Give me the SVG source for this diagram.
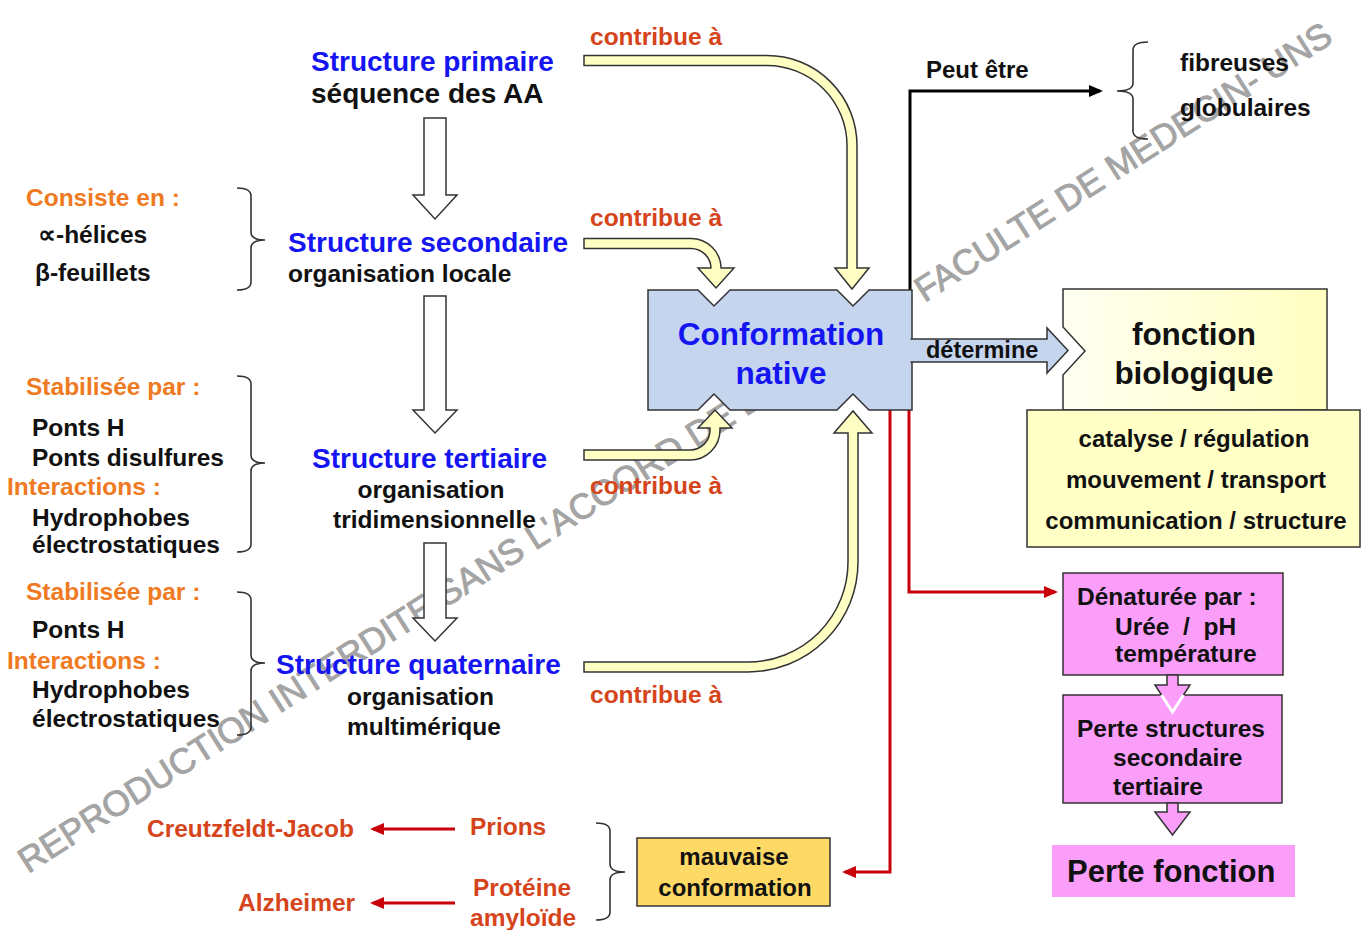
<svg xmlns="http://www.w3.org/2000/svg" width="1370" height="930" viewBox="0 0 1370 930">
<defs>
<style>
text{font-family:"Liberation Sans",Arial,sans-serif;font-weight:bold;}
.blue{fill:#1515F2;font-size:28px}
.blk{fill:#111;font-size:24.5px}
.big{fill:#111;font-size:28px}
.org{fill:#EF7A22;font-size:24.5px}
.red{fill:#D5441B;font-size:24.5px}
.ya{fill:#FFFFC4;stroke:#333;stroke-width:1.5}
.wa{fill:#fff;stroke:#333;stroke-width:1.5}
.pa{fill:#FA9EFA;stroke:#333;stroke-width:1.5}
.brace{fill:none;stroke:#333;stroke-width:1.6}
.box{stroke:#333;stroke-width:1.5}
.rl{fill:none;stroke:#C8000A;stroke-width:3}
.wm{font-family:"Liberation Sans",Arial,sans-serif;font-weight:normal;font-size:35.5px;fill:#A4A4A4;stroke:#A4A4A4;stroke-width:0.9}
</style>
<marker id="mr" markerUnits="userSpaceOnUse" markerWidth="14" markerHeight="12" refX="11" refY="6" orient="auto">
<path d="M0,0 L14,6 L0,12 z" fill="#C8000A"/>
</marker>
<marker id="mb" markerUnits="userSpaceOnUse" markerWidth="14" markerHeight="12" refX="11" refY="6" orient="auto">
<path d="M0,0 L14,6 L0,12 z" fill="#000"/>
</marker>
<linearGradient id="gf" x1="0" y1="0" x2="1" y2="0">
<stop offset="0" stop-color="#FFFFF2"/>
<stop offset="1" stop-color="#FFFFC0"/>
</linearGradient>
</defs>
<rect width="1370" height="930" fill="#fff"/>

<text class="wm" transform="translate(28,874) rotate(-32.5)">REPRODUCTION INTERDITE SANS L'ACCORD DE L'AUTEUR – FACULTE DE MEDECIN- UNS</text>

<g id="connectors">
<path class="wa" d="M424,118 H446 V195 H457 L435,219 L413,195 H424 Z"/>
<path class="wa" d="M424,296 H446 V410 H457 L435,433 L413,410 H424 Z"/>
<path class="wa" d="M424,543 H446 V618 H457 L435,641 L413,618 H424 Z"/>
<path class="ya" d="M584,55.5 H767 A90 90 0 0 1 857,145.5 V268 H869 L852,289 L835,268 H847 V145.5 A80 80 0 0 0 767,65.5 H584 Z"/>
<path class="ya" d="M584,238.5 H691 A30 30 0 0 1 721,268.5 V268 H734 L716,288 L698,268 H711 V268.5 A20 20 0 0 0 691,248.5 H584 Z"/>
<path class="ya" d="M584,460 H690 A30 30 0 0 0 720,430 V428 H732 L715,410 L698,428 H710 V430 A20 20 0 0 1 690,450 H584 Z"/>
<path class="ya" d="M584,672 H748 A110 110 0 0 0 858,562 V433 H872 L853,411 L834,433 H848 V562 A100 100 0 0 1 748,662 H584 Z"/>
<path d="M910,290 V91 H1100" fill="none" stroke="#000" stroke-width="3" marker-end="url(#mb)"/>
<path class="rl" d="M909,410 V592 H1055" marker-end="url(#mr)"/>
<path class="rl" d="M890,410 V872 H845" marker-end="url(#mr)"/>
<path class="rl" d="M455,829 H373" marker-end="url(#mr)"/>
<path class="rl" d="M455,903 H373" marker-end="url(#mr)"/>
</g>

<g id="primaire">
<text class="blue" x="311" y="71">Structure primaire</text>
<text class="big" x="311" y="103">séquence des AA</text>
</g>
<g id="secondaire">
<text class="blue" x="288" y="252">Structure secondaire</text>
<text class="blk" x="288" y="282">organisation locale</text>
</g>
<g id="tertiaire">
<text class="blue" x="312" y="468">Structure tertiaire</text>
<text class="blk" x="431" y="498" text-anchor="middle">organisation</text>
<text class="blk" x="333" y="528">tridimensionnelle</text>
</g>
<g id="quaternaire">
<text class="blue" x="276" y="674">Structure quaternaire</text>
<text class="blk" x="347" y="705">organisation</text>
<text class="blk" x="347" y="735">multimérique</text>
</g>

<g id="consiste">
<text class="org" x="26" y="206">Consiste en :</text>
<text class="blk" x="38" y="243">∝-hélices</text>
<text class="blk" x="35" y="281">β-feuillets</text>
<path class="brace" d="M237,188 Q251,188 251,196 V232 Q251,240 265,240 Q251,240 251,248 V282 Q251,290 237,290"/>
</g>
<g id="stab-tertiaire">
<text class="org" x="26" y="395">Stabilisée par :</text>
<text class="blk" x="32" y="436">Ponts H</text>
<text class="blk" x="32" y="466">Ponts disulfures</text>
<text class="org" x="7" y="495">Interactions :</text>
<text class="blk" x="32" y="526">Hydrophobes</text>
<text class="blk" x="32" y="553">électrostatiques</text>
<path class="brace" d="M237,376 Q251,376 251,384 V455 Q251,463 265,463 Q251,463 251,471 V544 Q251,552 237,552"/>
</g>
<g id="stab-quaternaire">
<text class="org" x="26" y="600">Stabilisée par :</text>
<text class="blk" x="32" y="638">Ponts H</text>
<text class="org" x="7" y="669">Interactions :</text>
<text class="blk" x="32" y="698">Hydrophobes</text>
<text class="blk" x="32" y="727">électrostatiques</text>
<path class="brace" d="M237,592 Q251,592 251,600 V655 Q251,663 265,663 Q251,663 251,671 V727 Q251,735 237,735"/>
</g>

<g id="contribue-labels">
<text class="red" x="590" y="45">contribue à</text>
<text class="red" x="590" y="226">contribue à</text>
<text class="red" x="590" y="494">contribue à</text>
<text class="red" x="590" y="703">contribue à</text>
</g>

<g id="conformation">
<path class="box" fill="#C6D5EE" d="M648,290 H698 L714,306 L730,290 H837 L853,306 L869,290 H912 V410 H869 L853,394 L837,410 H730 L714,394 L698,410 H648 Z"/>
<text x="781" y="345" text-anchor="middle" style="fill:#1515F2;font-size:31.5px">Conformation</text>
<text x="781" y="384" text-anchor="middle" style="fill:#1515F2;font-size:31.5px">native</text>
</g>

<g id="determine">
<path fill="#C6D5EE" stroke="#333" stroke-width="1.5" d="M910.5,339 H1047 V328 L1068,350.5 L1047,373 V362 H910.5"/>
<text class="blk" x="926" y="358" style="font-size:23.5px">détermine</text>
</g>

<g id="peut-etre">
<text class="blk" x="926" y="78" style="font-size:24px">Peut être</text>
<path class="brace" d="M1148,42 Q1133,42 1133,50 V83 Q1133,91 1117,91 Q1133,91 1133,99 V131 Q1133,139 1148,139"/>
<text class="blk" x="1180" y="71">fibreuses</text>
<text class="blk" x="1180" y="116">globulaires</text>
</g>

<g id="fonction">
<path class="box" fill="url(#gf)" d="M1063,289 H1327 V410 H1063 V375 L1085,351 L1063,327 Z"/>
<text x="1194" y="345" text-anchor="middle" style="fill:#111;font-size:31.5px">fonction</text>
<text x="1194" y="384" text-anchor="middle" style="fill:#111;font-size:31.5px">biologique</text>
</g>

<g id="roles">
<rect class="box" x="1027" y="410" width="333" height="137" fill="#FFFFC6"/>
<text class="blk" x="1194" y="447" text-anchor="middle" style="font-size:24px">catalyse / régulation</text>
<text class="blk" x="1196" y="488" text-anchor="middle" style="font-size:24px">mouvement / transport</text>
<text class="blk" x="1196" y="529" text-anchor="middle" style="font-size:24px">communication / structure</text>
</g>

<g id="denaturee">
<rect class="box" x="1063" y="573" width="220" height="102" fill="#FA9EFA"/>
<text class="blk" x="1077" y="605">Dénaturée par :</text>
<text class="blk" x="1115" y="635" xml:space="preserve">Urée  /  pH</text>
<text class="blk" x="1115" y="662">température</text>
</g>

<g id="perte-structures">
<rect class="box" x="1063" y="695" width="219" height="108" fill="#FA9EFA"/>
<text class="blk" x="1077" y="737">Perte structures</text>
<text class="blk" x="1113" y="766">secondaire</text>
<text class="blk" x="1113" y="795">tertiaire</text>
</g>

<g id="pink-arrows">
<path class="pa" d="M1167,675 H1178 V685 H1190 L1172.5,712 L1155,685 H1167 Z"/>
<polyline points="1161.5,695 1172.5,712 1183.5,695" fill="none" stroke="#fff" stroke-width="3"/>
<path class="pa" d="M1167,803 H1178 V812 H1190 L1172.5,835 L1155,812 H1167 Z"/>
</g>

<g id="perte-fonction">
<rect x="1052" y="845" width="243" height="52" fill="#FA9EFA"/>
<text x="1067" y="882" style="fill:#111;font-size:31px">Perte fonction</text>
</g>

<g id="maladies">
<text class="red" x="147" y="837">Creutzfeldt-Jacob</text>
<text class="red" x="470" y="835">Prions</text>
<text class="red" x="238" y="911">Alzheimer</text>
<text class="red" x="473" y="896">Protéine</text>
<text class="red" x="470" y="926">amyloïde</text>
<path class="brace" d="M596,823 Q610,823 610,831 V864 Q610,872 625,872 Q610,872 610,880 V912 Q610,920 596,920"/>
</g>

<g id="mauvaise">
<rect class="box" x="637" y="838" width="193" height="68" fill="#FFD966"/>
<text class="blk" x="734" y="865" text-anchor="middle" style="font-size:24px">mauvaise</text>
<text class="blk" x="735" y="896" text-anchor="middle" style="font-size:24px">conformation</text>
</g>
</svg>
